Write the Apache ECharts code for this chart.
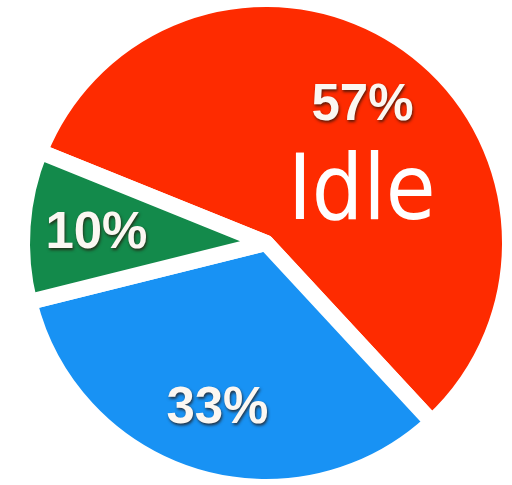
<!DOCTYPE html>
<html>
<head>
<meta charset="utf-8">
<script src="https://cdn.jsdelivr.net/npm/echarts@6/dist/echarts.min.js"></script>
<style>html,body{margin:0;padding:0;background:#fff;}#c{width:512px;height:485px;}</style>
</head>
<body>
<div id="c"></div>
<script>
const categories = ['Idle', 'Busy', 'Other'];
const values = [57, 33, 10];
const colors = ['#FE2B00', '#1892F4', '#138A4B'];
const centerLabel = 'Idle';

const data = categories.map((n, i) => ({ name: n, value: values[i], itemStyle: { color: colors[i] } }));
const labelData = categories.map((n, i) => ({ name: n, value: values[i] }));

const chart = echarts.init(document.getElementById('c'));
chart.setOption({
  animation: false,
  backgroundColor: '#fff',
  title: {
    text: centerLabel,
    left: 283, top: 146,
    textStyle: { color: '#fff', fontFamily: '"DejaVu Sans Condensed", "DejaVu Sans", sans-serif', fontWeight: 'normal', fontSize: 90 }
  },
  series: [
    {
      type: 'pie',
      center: [266, 243],
      radius: [0, 244],
      startAngle: 158,
      clockwise: true,
      silent: true,
      label: { show: false },
      labelLine: { show: false },
      itemStyle: { borderColor: '#fff', borderWidth: 16, borderJoin: 'round' },
      data: data
    },
    {
      type: 'pie',
      center: [266, 246],
      radius: [0, 334],
      startAngle: 158,
      clockwise: true,
      silent: true,
      itemStyle: { color: 'rgba(0,0,0,0)' },
      labelLine: { show: false },
      label: {
        show: true,
        position: 'inside',
        formatter: '{d}%',
        color: '#FBF7F2',
        fontFamily: '"Liberation Sans", Arial, sans-serif',
        fontWeight: 'bold',
        fontSize: 51,
        textShadowColor: 'rgba(40,20,10,0.75)',
        textShadowBlur: 3,
        textShadowOffsetX: 1,
        textShadowOffsetY: 2
      },
      data: labelData
    }
  ]
});
</script>
</body>
</html>
